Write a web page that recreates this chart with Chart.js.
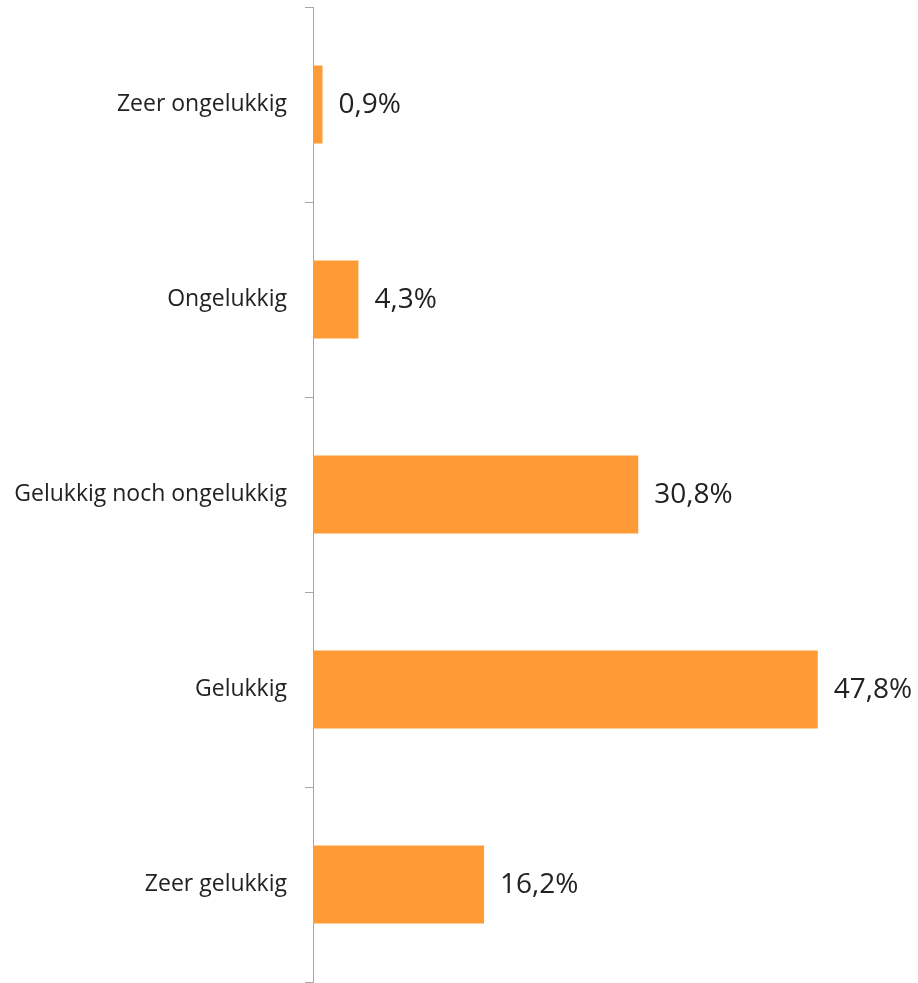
<!DOCTYPE html>
<html>
<head>
<meta charset="utf-8">
<script src="https://cdn.jsdelivr.net/npm/chart.js@4/dist/chart.umd.min.js"></script>
<style>
  html, body { margin: 0; padding: 0; background: #fff; }
  #wrap { width: 918px; height: 983px; }
</style>
</head>
<body>
<div id="wrap"><canvas id="grafico"></canvas></div>
<script>
// datos
const categorias = ["Zeer ongelukkig", "Ongelukkig", "Gelukkig noch ongelukkig", "Gelukkig", "Zeer gelukkig"];
const valores = [0.9, 4.3, 30.8, 47.8, 16.2];
const etiquetas = ["0,9%", "4,3%", "30,8%", "47,8%", "16,2%"];

// etiquetas de valor al final de cada barra
const etiquetasBarras = {
    id: "etiquetasBarras",
    afterDatasetsDraw(chart) {
        const ctx = chart.ctx;
        const meta = chart.getDatasetMeta(0);
        ctx.save();
        ctx.font = "28px 'Open Sans', sans-serif";
        ctx.fillStyle = "#222";
        ctx.textAlign = "left";
        ctx.textBaseline = "middle";
        meta.data.forEach((bar, i) => {
            ctx.fillText(etiquetas[i], bar.x + 16, bar.y + 1);
        });
        ctx.restore();
    }
};

new Chart(document.getElementById("grafico"), {
    type: "bar",
    data: {
        labels: categorias,
        datasets: [{
            data: valores,
            backgroundColor: "#FF9B37",
            categoryPercentage: 1,
            barPercentage: 0.4
        }]
    },
    options: {
        indexAxis: "y",
        responsive: true,
        maintainAspectRatio: false,
        animation: false,
        layout: { padding: { top: 7, bottom: 1, right: 77, left: 0 } },
        plugins: {
            legend: { display: false },
            tooltip: { enabled: false }
        },
        scales: {
            x: {
                display: false,
                min: 0,
                max: 50
            },
            y: {
                afterFit: s => {
                    s.width = 313;
                    s.paddingTop = 0;
                    s.paddingBottom = 0;
                },
                grid: {
                    offset: true,
                    drawOnChartArea: false,
                    drawTicks: true,
                    tickLength: 8,
                    color: "#a6a6a6"
                },
                border: { color: "#a6a6a6", width: 1 },
                ticks: {
                    color: "#222",
                    padding: 18,
                    font: { family: "'Open Sans', sans-serif", size: 23 }
                }
            }
        }
    },
    plugins: [etiquetasBarras]
});
</script>
</body>
</html>
